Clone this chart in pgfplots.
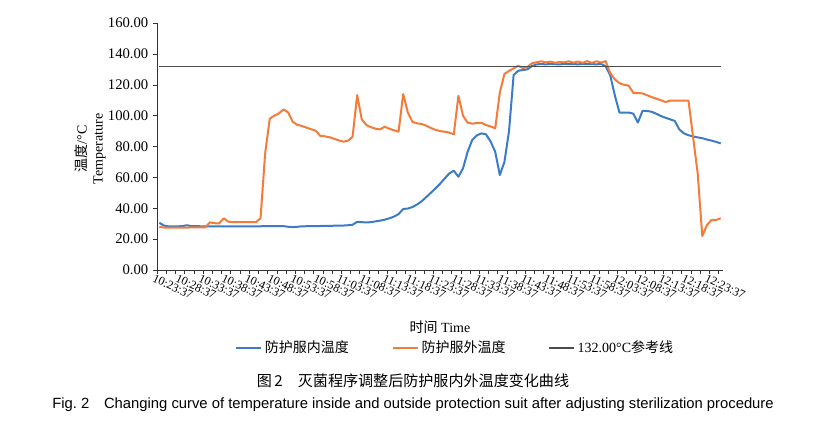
\documentclass[border=0pt]{standalone}
\usepackage{pgfplots}
\pgfplotsset{compat=1.18}
\usepackage{fontspec}
\setmainfont{Liberation Serif}
\newfontfamily\cjk{Noto Sans CJK SC}
\newfontfamily\arial{Liberation Sans}

\definecolor{inblue}{HTML}{3B7BC8}
\definecolor{outorange}{HTML}{F47B3A}
\definecolor{refgray}{HTML}{4D4D4D}

\begin{document}
\begin{tikzpicture}
\useasboundingbox (0,0) rectangle (625.5pt,318.75pt);
\begin{axis}[
  at={(117.75pt,116.25pt)}, anchor=south west,
  scale only axis, width=424.5pt, height=185.25pt,
  axis x line*=bottom, axis y line*=left,
  x axis line style={-, black!80}, y axis line style={-, black!80},
  xmin=-0.5, xmax=122.5, ymin=0, ymax=160,
  xtick={0,5,...,120},
  xticklabels={10:23:37,10:28:37,10:33:37,10:38:37,10:43:37,10:48:37,10:53:37,10:58:37,
    11:03:37,11:08:37,11:13:37,11:18:37,11:23:37,11:28:37,11:33:37,11:38:37,11:43:37,
    11:48:37,11:53:37,11:58:37,12:03:37,12:08:37,12:13:37,12:18:37,12:23:37},
  minor xtick={-0.5,1.5,...,121.5},
  major x tick style={draw=none},
  minor tick length=3pt, major tick length=3pt,
  tick align=outside, tick style={black!80},
  x tick label style={rotate=-25, anchor=north west, inner sep=1pt, xshift=-4pt,
    font=\fontsize{9}{9}\selectfont},
  ytick={0,20,...,160},
  yticklabels={0.00,20.00,40.00,60.00,80.00,100.00,120.00,140.00,160.00},
  y tick label style={font=\fontsize{11}{12}\selectfont},
  xlabel={{\cjk 时间} Time},
  xlabel style={at={(axis description cs:0.5,-0.231)}, anchor=center,
    font=\fontsize{10.5}{12}\selectfont},
  ylabel={{\cjk 温度}/°C\\Temperature},
  ylabel style={at={(axis description cs:-0.118,0.49)}, anchor=center, align=center,
    font=\fontsize{10.5}{12}\selectfont},
  legend columns=3,
  legend style={at={(axis description cs:0.527,-0.316)}, anchor=center, draw=none,
    font=\fontsize{10.5}{12}\selectfont,
    /tikz/every even column/.append style={column sep=30pt}},
  legend image code/.code={\draw[#1] (0cm,0cm) -- (0.67cm,0cm);},
]
\addplot[inblue, line width=1.5pt, line join=round] coordinates {
(0,30.6) (1,28.8) (2,28.3) (3,28.3) (4,28.3) (5,28.4) (6,29.0) (7,28.4) (10,28.3)
(15,28.3) (20,28.3) (25,28.4) (27,28.4) (28,28.0) (29,27.8) (30,28.0) (31,28.3)
(35,28.5) (40,28.8) (41,29.0) (42,29.3) (43,31.2) (44,31.0) (45,30.8) (46,31.0)
(47,31.5) (48,32.0) (49,32.6) (50,33.5) (51,34.6) (52,36.2) (53,39.5) (54,39.8)
(55,40.8) (56,42.4) (57,44.5) (58,47.2) (59,50.0) (60,52.8) (61,55.8) (62,59.2)
(63,62.5) (64,64.3) (65,60.4) (66,65.8) (67,76.6) (68,84.2) (69,87.2) (70,88.5)
(71,87.9) (72,83.2) (73,76.6) (74,61.5) (75,70.0) (76,90.0) (77,126.3) (78,129.1)
(79,129.5) (80,130.0) (81,132.1) (82,133.2) (83,133.4) (84,133.2) (85,133.5)
(86,133.3) (87,133.2) (88,133.5) (89,133.3) (90,133.4) (91,133.2) (92,133.5)
(93,133.3) (94,133.4) (95,133.2) (96,133.5) (97,132.0) (98,126.0) (99,113.0)
(100,102.0) (101,102.0) (102,102.0) (103,101.3) (104,95.5) (105,103.0) (106,103.0)
(107,102.5) (108,101.2) (109,99.8) (110,98.6) (111,97.6) (112,96.6) (113,91.1)
(114,88.5) (115,87.3) (116,86.5) (117,85.9) (118,85.4) (119,84.5) (120,83.8)
(121,83.0) (122,82.0)
};
\addlegendentry{\cjk 防护服内温度}
\addplot[outorange, line width=1.5pt, line join=round] coordinates {
(0,28.0) (1,27.5) (5,27.5) (10,27.6) (11,30.9) (12,30.3) (13,30.2) (14,33.5)
(15,31.3) (16,31.0) (21,31.0) (22,33.5) (23,75.5) (24,98.0) (25,100.0) (26,101.5)
(27,104.0) (28,102.1) (29,96.0) (30,94.0) (31,93.3) (32,92.2) (33,91.2) (34,90.2)
(35,86.8) (36,86.6) (37,86.0) (38,85.0) (39,84.0) (40,83.1) (41,83.8) (42,86.3)
(43,113.3) (44,97.5) (45,93.9) (46,92.5) (47,91.5) (48,91.1) (49,92.8) (50,91.5)
(51,90.5) (52,89.6) (53,114.0) (54,102.0) (55,96.0) (56,95.0) (57,94.6) (58,93.5)
(59,92.0) (60,90.8) (61,90.0) (62,89.6) (63,89.0) (64,87.9) (65,112.9) (66,100.0)
(67,95.4) (68,94.8) (69,95.2) (70,95.4) (71,93.9) (72,93.0) (73,91.8) (74,115.0)
(75,127.0) (76,129.0) (77,130.6) (78,132.3) (79,130.8) (80,131.5) (81,133.9)
(82,134.6) (83,135.2) (84,134.5) (85,135.0) (86,134.2) (87,134.8) (88,134.5)
(89,135.2) (90,134.3) (91,135.0) (92,134.2) (93,135.3) (94,134.2) (95,135.2)
(96,134.4) (97,135.3) (98,127.5) (99,123.5) (100,121.0) (101,120.0) (102,119.4)
(103,114.8) (104,114.6) (105,114.4) (106,113.2) (107,112.0) (108,111.0)
(109,110.0) (110,108.8) (111,109.7) (112,109.7) (113,109.7) (114,109.7)
(115,109.7) (116,86.0) (117,62.6) (118,22.0) (119,29.1) (120,32.4) (121,32.4)
(122,33.5)
};
\addlegendentry{\cjk 防护服外温度}
\addplot[refgray, line width=1pt] coordinates {(0,132) (122,132)};
\addlegendentry{132.00°C{\cjk 参考线}}
\end{axis}
\node[font=\cjk\fontsize{11.3}{13}\selectfont] at (309.75pt,33pt)
  {图\,2\quad 灭菌程序调整后防护服内外温度变化曲线};
\node[font=\arial\fontsize{11.1}{13}\selectfont] at (309.75pt,15pt)
  {Fig.~2\quad Changing curve of temperature inside and outside protection suit after adjusting sterilization procedure};
\end{tikzpicture}
\end{document}
